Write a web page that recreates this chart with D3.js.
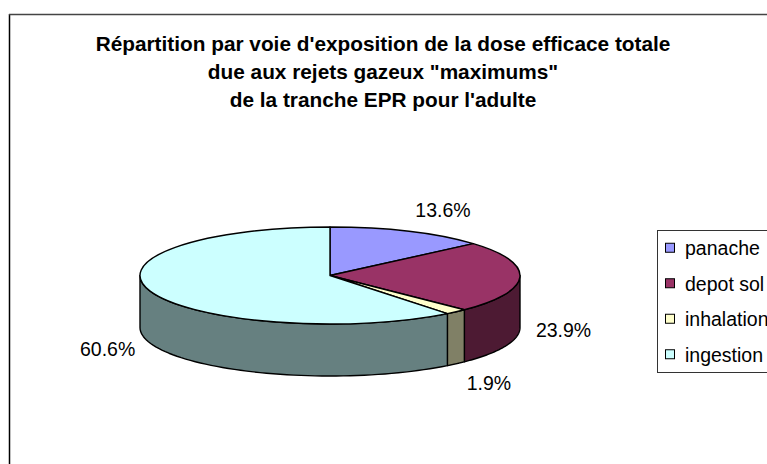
<!DOCTYPE html>
<html>
<head>
<meta charset="utf-8">
<script src="https://cdn.jsdelivr.net/npm/d3@7"></script>
<style>
  html, body { margin: 0; padding: 0; background: #fff; }
  svg { display: block; font-family: "Liberation Sans", Arial, sans-serif; }
</style>
</head>
<body>
<svg id="chart" width="767" height="464"></svg>
<script>
// Dose breakdown by exposure pathway
const categories = ["panache", "depot sol", "inhalation", "ingestion"];
const values = [13.6, 23.9, 1.9, 60.6];
const valueLabels = ["13.6%", "23.9%", "1.9%", "60.6%"];
const titleLines = [
  "Répartition par voie d'exposition de la dose efficace totale",
  "due aux rejets gazeux \"maximums\"",
  "de la tranche EPR pour l'adulte"
];

const topColors = ["#9999FF", "#993366", "#FFFFCC", "#CCFFFF"];
const sideColors = ["#4D4D80", "#4D1A33", "#808066", "#668080"];

const W = 767, H = 464;
const svg = d3.select("#chart");

// chart area frame (runs off the right and bottom edges)
svg.append("line").attr("x1", 9.5).attr("y1", 14).attr("x2", 9.5).attr("y2", H)
  .attr("stroke", "#000").attr("stroke-width", 1.5);
svg.append("line").attr("x1", 9).attr("y1", 14.5).attr("x2", W).attr("y2", 14.5)
  .attr("stroke", "#444").attr("stroke-width", 1.5);

// title
svg.append("g").selectAll("text").data(titleLines).join("text")
  .attr("x", 383)
  .attr("y", (d, i) => 51 + i * 28)
  .attr("text-anchor", "middle")
  .attr("font-size", 20.8)
  .attr("font-weight", "bold")
  .attr("fill", "#000")
  .text(d => d);

// 3D pie geometry
const cx = 330, cy = 275.5, rx = 190, ry = 48.5, depth = 52;
const arcs = d3.pie().sort(null).value(d => d)(values);

const rim = (a, dy) => [cx + rx * Math.sin(a), cy - ry * Math.cos(a) + dy];

// outer walls: only the front half (angles between 90° and 270°) is visible
const line = d3.line();
const walls = svg.append("g");
arcs.forEach((a, i) => {
  const a0 = Math.max(a.startAngle, Math.PI / 2);
  const a1 = Math.min(a.endAngle, 3 * Math.PI / 2);
  if (a0 >= a1) return;
  const n = 60;
  const pts = [];
  for (let k = 0; k <= n; k++) pts.push(rim(a0 + (a1 - a0) * k / n, 0));
  for (let k = n; k >= 0; k--) pts.push(rim(a0 + (a1 - a0) * k / n, depth));
  walls.append("path")
    .attr("d", line(pts) + "Z")
    .attr("fill", sideColors[i])
    .attr("stroke", "#000")
    .attr("stroke-width", 1.4)
    .attr("stroke-linejoin", "round");
});

// top faces, drawn as a circular pie squashed into an ellipse
const arcGen = d3.arc().innerRadius(0).outerRadius(rx);
svg.append("g")
  .attr("transform", `translate(${cx},${cy}) scale(1,${ry / rx})`)
  .selectAll("path").data(arcs).join("path")
  .attr("d", arcGen)
  .attr("fill", (d, i) => topColors[i])
  .attr("stroke", "#000")
  .attr("stroke-width", 1.4)
  .attr("stroke-linejoin", "round")
  .attr("vector-effect", "non-scaling-stroke");

// value labels, placed just outside the rim at each slice's mid angle
const labelSize = 19.5, gap = 16, th = 0.35;
const labelG = svg.append("g");
arcs.forEach((a, i) => {
  const m = (a.startAngle + a.endAngle) / 2;
  const s = Math.sin(m), c = Math.cos(m);
  const front = c < 0;
  const [ax, ay] = rim(m, front ? depth : 0);
  const t = labelG.append("text")
    .attr("font-size", labelSize)
    .attr("fill", "#000")
    .text(valueLabels[i]);
  const bb = t.node().getBBox();
  const w = bb.width, h = labelSize * 0.72;
  let x0;
  if (s > th) x0 = ax + gap * s;
  else if (s < -th) x0 = ax + gap * s - w;
  else x0 = ax + gap * s - w / 2;
  let yTop;
  if (c > th) yTop = ay - gap * c - h;
  else if (c < -th) yTop = ay - gap * c;
  else yTop = ay - gap * c - h / 2;
  t.attr("x", x0).attr("y", yTop + h);
});

// legend
const lgX = 657.5, lgY = 230.5, lgH = 142;
svg.append("rect")
  .attr("x", lgX).attr("y", lgY).attr("width", 200).attr("height", lgH)
  .attr("fill", "#fff").attr("stroke", "#333").attr("stroke-width", 1);
const rowH = lgH / categories.length;
const items = svg.append("g").selectAll("g").data(categories).join("g")
  .attr("transform", (d, i) => `translate(0,${lgY + rowH * (i + 0.5)})`);
items.append("rect")
  .attr("x", 665.5).attr("y", -5).attr("width", 9).attr("height", 9)
  .attr("fill", (d, i) => topColors[i])
  .attr("stroke", "#000").attr("stroke-width", 1);
items.append("text")
  .attr("x", 685).attr("y", 7)
  .attr("font-size", labelSize)
  .attr("fill", "#000")
  .text(d => d);
</script>
</body>
</html>
